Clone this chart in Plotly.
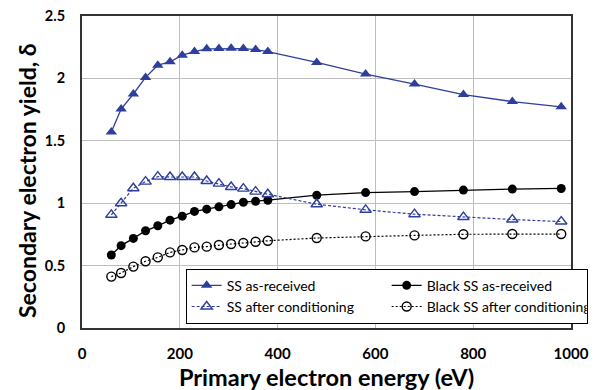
import plotly.graph_objects as go

energy = [60, 80, 105, 130, 155, 180, 205, 230, 255, 280, 305, 330, 355, 380,
          480, 580, 680, 780, 880, 980]

ss_as_received = [1.57, 1.755, 1.875, 2.008, 2.106, 2.133, 2.186, 2.215, 2.237, 2.239,
                  2.242, 2.239, 2.231, 2.215, 2.128, 2.035, 1.955, 1.870, 1.814, 1.772]
ss_after_cond = [0.907, 1.0, 1.12, 1.173, 1.213, 1.21, 1.21, 1.21, 1.178, 1.157,
                 1.13, 1.117, 1.093, 1.072, 0.992, 0.947, 0.912, 0.889, 0.869, 0.853]
black_as_received = [0.585, 0.66, 0.718, 0.779, 0.819, 0.864, 0.896, 0.934, 0.952, 0.971,
                     0.989, 1.008, 1.016, 1.024, 1.064, 1.085, 1.093, 1.105, 1.113, 1.118]
black_after_cond = [0.412, 0.441, 0.492, 0.535, 0.566, 0.606, 0.625, 0.646, 0.652, 0.665,
                    0.673, 0.681, 0.691, 0.699, 0.721, 0.734, 0.742, 0.751, 0.753, 0.753]

x_ticks = [0, 200, 400, 600, 800, 1000]
x_tick_labels = ["0", "200", "400", "600", "800", "1000"]
y_ticks = [0, 0.5, 1, 1.5, 2, 2.5]
y_tick_labels = ["0", "0.5", "1", "1.5", "2", "2.5"]

BLUE = "#2E3E9C"
FONT = "Lato"

fig = go.Figure()
fig.add_trace(go.Scatter(
    x=energy, y=ss_as_received, name="SS as-received", mode="lines+markers",
    line=dict(color=BLUE, width=1.3),
    marker=dict(symbol="triangle-up", size=10, color=BLUE)))
fig.add_trace(go.Scatter(
    x=energy, y=black_as_received, name="Black SS as-received", mode="lines+markers",
    line=dict(color="black", width=1.3),
    marker=dict(symbol="circle", size=9, color="black")))
fig.add_trace(go.Scatter(
    x=energy, y=ss_after_cond, name="SS after conditioning", mode="lines+markers",
    line=dict(color=BLUE, width=1.2, dash="3px,2px"),
    marker=dict(symbol="triangle-up-open", size=10, color=BLUE, line=dict(width=1.4))))
fig.add_trace(go.Scatter(
    x=energy, y=black_after_cond, name="Black SS after conditioning", mode="lines+markers",
    line=dict(color="black", width=1.2, dash="2px,2px"),
    marker=dict(symbol="circle-open", size=9, color="black", line=dict(width=1.4))))

fig.update_layout(
    width=591, height=382,
    margin=dict(l=74, r=28, t=8, b=62, autoexpand=False),
    paper_bgcolor="white", plot_bgcolor="white",
    font=dict(family=FONT, color="black"),
    showlegend=True,
    legend=dict(
        orientation="h", x=0.212, y=0.19, xanchor="left", yanchor="top",
        xref="paper", yref="paper",
        bgcolor="white", bordercolor="black", borderwidth=1,
        font=dict(family=FONT, size=14, color="black"),
        entrywidth=155, traceorder="normal",
    ),
    xaxis=dict(
        range=[0, 1000], tickvals=x_ticks, ticktext=x_tick_labels,
        showgrid=True, gridcolor="#bdbdbd", gridwidth=1,
        showline=True, mirror=True, linecolor="#333333", linewidth=2,
        ticks="", ticklabelstandoff=11, zeroline=False, automargin=False,
        ticklabeloverflow="allow",
        tickfont=dict(family=FONT, size=15, color="black", weight="bold"),
    ),
    yaxis=dict(
        range=[0, 2.5], tickvals=y_ticks, ticktext=y_tick_labels,
        showgrid=True, gridcolor="#bdbdbd", gridwidth=1,
        showline=True, mirror=True, linecolor="#333333", linewidth=2,
        ticks="", ticklabelstandoff=12, zeroline=False, automargin=False,
        ticklabeloverflow="allow",
        tickfont=dict(family=FONT, size=14.5, color="black", weight="bold"),
    ),
    annotations=[
        dict(text="<b>Primary electron energy (eV)</b>", xref="paper", yref="paper",
             x=0.5, y=0, xanchor="center", yanchor="middle", yshift=-49,
             showarrow=False, font=dict(family=FONT, size=23.5, color="black")),
        dict(text="<b>Secondary electron yield, δ</b>", xref="paper", yref="paper",
             x=0, y=0.5, xanchor="center", yanchor="middle", xshift=-55, yshift=-9,
             textangle=-90, showarrow=False, font=dict(family=FONT, size=23, color="black")),
    ],
)

fig.write_html("out.html")
